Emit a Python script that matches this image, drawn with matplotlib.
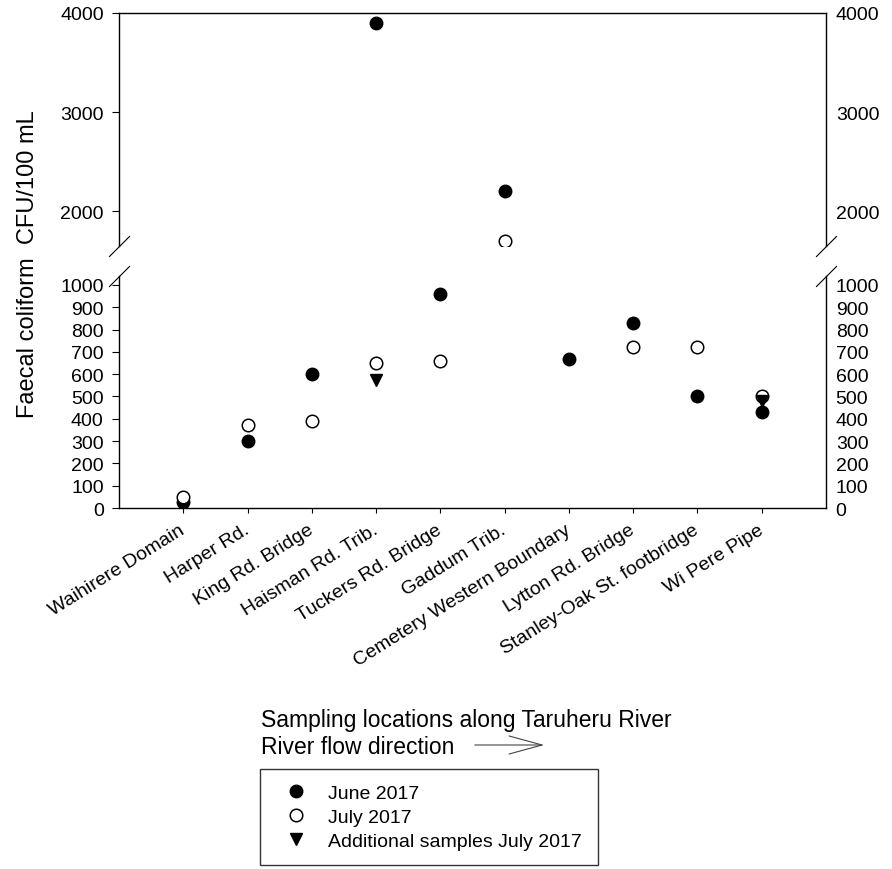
import matplotlib
matplotlib.use("Agg")
import matplotlib.pyplot as plt
from matplotlib.patches import FancyArrowPatch
import numpy as np

plt.rcParams["font.family"] = ["Liberation Sans", "DejaVu Sans"]

LOCATIONS = [
    "Waihirere Domain", "Harper Rd.", "King Rd. Bridge", "Haisman Rd. Trib.",
    "Tuckers Rd. Bridge", "Gaddum Trib.", "Cemetery Western Boundary",
    "Lytton Rd. Bridge", "Stanley-Oak St. footbridge", "Wi Pere Pipe",
]
june_2017 = [25, 300, 600, 3900, 960, 2200, 670, 830, 500, 430]
july_2017 = [50, 370, 390, 650, 660, 1700, np.nan, 720, 720, 500]
extra_july_2017 = [np.nan, np.nan, np.nan, 575, np.nan, np.nan, np.nan, np.nan, np.nan, 480]

LOW_TICKS = list(range(0, 1001, 100))
HIGH_TICKS = [2000, 3000, 4000]

W, H = 892, 870
fig = plt.figure(figsize=(W / 100, H / 100), dpi=100)

left = 119 / W
width = (826 - 119) / W
ax_hi = fig.add_axes([left, 1 - 247 / H, width, 233 / H])
ax_lo = fig.add_axes([left, 1 - 509 / H, width, 232 / H])

x = np.arange(1, len(LOCATIONS) + 1)
handles = []
for ax in (ax_hi, ax_lo):
    h1, = ax.plot(x, june_2017, "o", color="black", ms=9, label="June 2017", zorder=3)
    h2, = ax.plot(x, july_2017, "o", mfc="white", mec="black", mew=1.1, ms=9,
                  label="July 2017", zorder=4)
    h3, = ax.plot(x, extra_july_2017, "v", color="black", ms=9,
                  label="Additional samples July 2017", zorder=5)
    handles = [h1, h2, h3]
    ax.set_xlim(0, 11)
    for s in ax.spines.values():
        s.set_linewidth(1.0)

ax_hi.set_ylim(1650, 4000)
ax_lo.set_ylim(0, 1040)
ax_hi.spines["bottom"].set_visible(False)
ax_lo.spines["top"].set_visible(False)

ax_hi.set_yticks(HIGH_TICKS)
ax_lo.set_yticks(LOW_TICKS)
ax_hi.set_xticks([])
ax_lo.set_xticks(x)
ax_lo.set_xticklabels(LOCATIONS)
ax_lo.tick_params(axis="x", direction="out", length=3.6, width=0.8, pad=11, labelsize=14)
plt.setp(ax_lo.get_xticklabels(), rotation=32, ha="right", va="center",
         rotation_mode="anchor")

for ax, ticks in ((ax_hi, HIGH_TICKS), (ax_lo, LOW_TICKS)):
    ax.tick_params(axis="y", direction="out", length=5, width=0.8, pad=6, labelsize=14)
    # right-hand labels, no tick marks
    tw = ax.twinx()
    tw.set_ylim(ax.get_ylim())
    tw.set_yticks(ticks)
    tw.tick_params(axis="y", length=0, pad=7, labelsize=14)
    for s in tw.spines.values():
        s.set_visible(False)

# axis break marks
brk = dict(marker=[(-1, -1), (1, 1)], markersize=15, linestyle="none",
           color="black", mec="black", mew=0.8, clip_on=False)
ax_hi.plot([0, 1], [0, 0], transform=ax_hi.transAxes, **brk)
ax_lo.plot([0, 1], [1, 1], transform=ax_lo.transAxes, **brk)

fig.text(28 / W, 1 - 264 / H, "Faecal coliform  CFU/100 mL", rotation=90,
         ha="center", va="center", fontsize=17)
fig.text(261 / W, 1 - 721 / H, "Sampling locations along Taruheru River",
         ha="left", va="center", fontsize=16.5)
fig.text(261 / W, 1 - 747 / H, "River flow direction",
         ha="left", va="center", fontsize=16.5)

arrow = FancyArrowPatch((472 / W, 1 - 746 / H), (547 / W, 1 - 746 / H),
                        transform=fig.transFigure,
                        arrowstyle="->,head_length=23.8,head_width=6.5",
                        mutation_scale=1, color="#444444", lw=0.8)
fig.patches.append(arrow)

leg = fig.legend(handles=handles, loc="upper left",
                 bbox_to_anchor=(260 / W, 1 - 770 / H), bbox_transform=fig.transFigure,
                 borderaxespad=0, fontsize=14, numpoints=1, fancybox=False,
                 frameon=True, edgecolor="black", borderpad=0.8,
                 handlelength=2.1, handletextpad=0.61, labelspacing=0.32)
leg.get_frame().set_linewidth(1.0)

fig.savefig("out.png", dpi=100, facecolor="white")
